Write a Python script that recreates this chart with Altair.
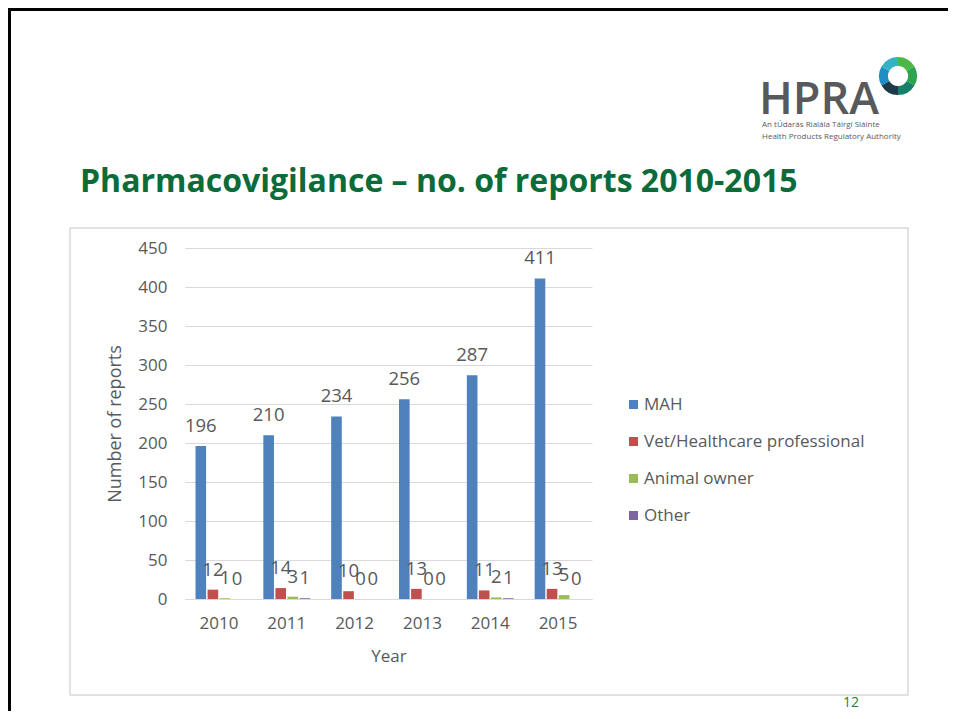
import altair as alt
import pandas as pd

years = ["2010", "2011", "2012", "2013", "2014", "2015"]
categories = ["MAH", "Vet/Healthcare professional", "Animal owner", "Other"]
colors = ["#4f81bd", "#c0504d", "#9bbb59", "#8064a2"]
mah = [196, 210, 234, 256, 287, 411]
vet = [12, 14, 10, 13, 11, 13]
owner = [1, 3, 0, 0, 2, 5]
other = [0, 1, 0, 0, 1, 0]
y_ticks = [0, 50, 100, 150, 200, 250, 300, 350, 400, 450]

title_text = "Pharmacovigilance \u2013 no. of reports 2010-2015"
logo_big = "HPRA"
logo_line1 = "An tÚdarás Rialála Táirgí Sláinte"
logo_line2 = "Health Products Regulatory Authority"
logo_colors = ["#4cb748", "#2ea44f", "#16806a", "#1d3a4a", "#1f8cc4", "#35b3c4"]
page_no = "12"

rows = []
for cat, vals in zip(categories, [mah, vet, owner, other]):
    for yr, v in zip(years, vals):
        rows.append({"year": yr, "category": cat, "value": v})
df = pd.DataFrame(rows)

FONT = "Open Sans"
GRAY = "#595959"
GREEN = "#0b6b39"

W, H = 407, 351
PL, PT, PR, PB = 177, 240, 356, 112

x_enc = alt.X("year:N", sort=years,
              scale=alt.Scale(paddingInner=0.31, paddingOuter=0.155),
              axis=alt.Axis(title="Year", labelFontSize=17, labelColor=GRAY,
                            labelFont=FONT, labelPadding=16, ticks=False,
                            domainColor="#d9d9d9", labelAngle=0,
                            titleFontSize=17, titleFont=FONT, titleColor=GRAY,
                            titleFontWeight="normal", titleY=57,
                            titleBaseline="middle"))
xo_enc = alt.XOffset("category:N", sort=categories,
                     scale=alt.Scale(paddingInner=0.12, paddingOuter=0))
y_enc = alt.Y("value:Q", scale=alt.Scale(domain=[0, 450], nice=False, zero=True),
              axis=alt.Axis(title="Number of reports", values=y_ticks,
                            labelOverlap=False,
                            labelFontSize=17, labelColor=GRAY, labelFont=FONT,
                            labelPadding=18, ticks=False, domain=False,
                            gridColor="#d9d9d9", gridWidth=1,
                            titleFontSize=18, titleFont=FONT, titleColor=GRAY,
                            titleFontWeight="normal", titleX=-70, titleY=H / 2,
                            titleAngle=-90, titleBaseline="middle"))
color_enc = alt.Color("category:N", sort=categories,
                      scale=alt.Scale(domain=categories, range=colors),
                      legend=alt.Legend(title=None, orient="none",
                                        legendX=440, legendY=148,
                                        symbolType="square", symbolSize=81,
                                        symbolStrokeWidth=0, labelLimit=0,
                                        labelFontSize=17, labelColor=GRAY,
                                        labelFont=FONT, labelOffset=2,
                                        rowPadding=19, padding=0))

base = alt.Chart(df).encode(x=x_enc, xOffset=xo_enc, y=y_enc)
bars = base.mark_bar().encode(color=color_enc)
labels = base.mark_text(fontSize=18.5, font=FONT, color=GRAY,
                        baseline="alphabetic", dy=-14).encode(text="value:Q")

one = alt.Data(values=[{}])

top_border = alt.Chart(one).mark_rule(color="black", strokeWidth=3).encode(
    x=alt.value(-PL), x2=alt.value(W + PR), y=alt.value(-PT + 1.5))
left_border = alt.Chart(one).mark_rule(color="black", strokeWidth=3).encode(
    x=alt.value(-PL + 1.5), y=alt.value(-PT), y2=alt.value(H + PB))
box = alt.Chart(one).mark_rect(fillOpacity=0, stroke="#d9d9d9", strokeWidth=1.5).encode(
    x=alt.value(-115), x2=alt.value(723), y=alt.value(-20), y2=alt.value(447))

title = alt.Chart(one).mark_text(text=title_text, font=FONT, fontSize=32, fontWeight="bold",
                                 color=GREEN, align="left", baseline="alphabetic").encode(
    x=alt.value(-105), y=alt.value(-56))
logo_t = alt.Chart(one).mark_text(text=logo_big, font=FONT, fontSize=45, fontWeight=600,
                                  color="#58595b", align="left", baseline="alphabetic").encode(
    x=alt.value(574), y=alt.value(-134))
logo_l1 = alt.Chart(one).mark_text(text=logo_line1, font=FONT, fontSize=8, color="#58595b",
                                   align="left", baseline="alphabetic").encode(
    x=alt.value(577), y=alt.value(-121))
logo_l2 = alt.Chart(one).mark_text(text=logo_line2, font=FONT, fontSize=8, color="#58595b",
                                   align="left", baseline="alphabetic").encode(
    x=alt.value(577), y=alt.value(-109))
ring_df = pd.DataFrame({"seg": list(range(6)), "w": [1] * 6, "c": logo_colors})
logo_ring = alt.Chart(ring_df).mark_arc(radius=19, radius2=10).encode(
    theta=alt.Theta("w:Q", stack=True), order=alt.Order("seg:O"),
    fill=alt.Fill("c:N", scale=None), x=alt.value(713), y=alt.value(-172))
page = alt.Chart(one).mark_text(text=page_no, font=FONT, fontSize=14, color="#1a7f45",
                                align="center", baseline="alphabetic").encode(
    x=alt.value(666), y=alt.value(459))

chart = alt.layer(box, top_border, left_border, title, logo_t, logo_l1, logo_l2,
                  logo_ring, page, bars, labels).properties(
    width=W, height=H,
    padding={"left": PL, "top": PT, "right": PR, "bottom": PB},
    autosize=alt.AutoSizeParams(type="none"),
    background="white",
).configure_view(stroke=None)

chart.save("out.html", embed_options={"renderer": "svg", "actions": False})
